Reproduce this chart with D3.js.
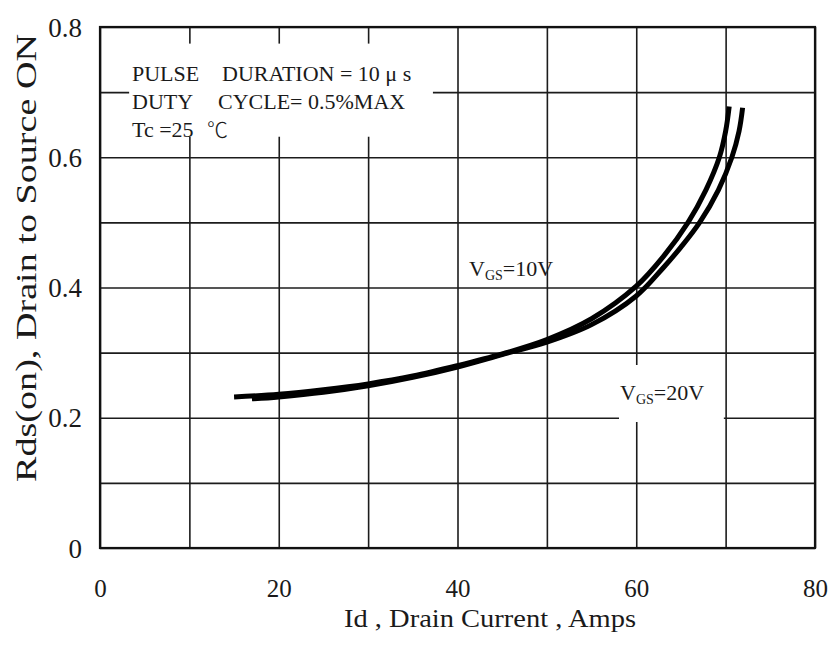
<!DOCTYPE html>
<html>
<head>
<meta charset="utf-8">
<script src="https://cdn.jsdelivr.net/npm/d3@7"></script>
<style>
  html, body { margin: 0; padding: 0; background: #fff; }
  svg { display: block; }
  text { font-family: "Liberation Serif", "Times New Roman", serif; fill: #1a1a1a; }
</style>
</head>
<body>
<svg id="chart" width="831" height="646"></svg>
<script>
// ---- data ----
const xTickLabels = [0, 20, 40, 60, 80];
const yTickLabels = [0, 0.2, 0.4, 0.6, 0.8];
const xGrid = [0, 10, 20, 30, 40, 50, 60, 70, 80];
const yGrid = [0, 0.1, 0.2, 0.3, 0.4, 0.5, 0.6, 0.7, 0.8];

// VGS = 10V  (Id [A], Rds(on) [ohm])
const vgs10Id  = [15, 20, 25, 30, 35, 40, 45, 50, 55, 60, 63, 65.8, 67.8, 69.3, 70.0, 70.4];
const vgs10Rds = [0.232, 0.236, 0.243, 0.252, 0.264, 0.280, 0.298, 0.320, 0.352, 0.402, 0.447, 0.500, 0.550, 0.600, 0.640, 0.678];
// VGS = 20V
const vgs20Id  = [17, 20, 25, 30, 35, 40, 45, 50, 55, 60, 63, 65, 67.1, 69.2, 70.7, 71.5, 71.9];
const vgs20Rds = [0.229, 0.232, 0.239, 0.249, 0.262, 0.278, 0.297, 0.316, 0.343, 0.387, 0.430, 0.462, 0.500, 0.550, 0.600, 0.640, 0.676];

const noteLines = [
  ["PULSE", "DURATION = 10 \u03bc s"],
  ["DUTY", "CYCLE= 0.5%MAX"],
  ["Tc =25", "\u2103"]
];
const xTitle = "Id , Drain Current , Amps";
const yTitle = "Rds(on), Drain to Source ON";

// ---- layout ----
const svg = d3.select("#chart");
const x = d3.scaleLinear().domain([0, 80]).range([100, 815]);
const y = d3.scaleLinear().domain([0, 0.8]).range([548, 27]);
const plotTop = y(0.8), plotBottom = y(0), plotLeft = x(0), plotRight = x(80);

// grid via axes
const gx = svg.append("g")
  .attr("transform", `translate(0,${plotBottom})`)
  .call(d3.axisBottom(x).tickValues(xGrid).tickSize(-(plotBottom - plotTop)).tickFormat(""));
const gy = svg.append("g")
  .attr("transform", `translate(${plotLeft},0)`)
  .call(d3.axisLeft(y).tickValues(yGrid).tickSize(-(plotRight - plotLeft)).tickFormat(""));
[gx, gy].forEach(g => {
  g.select(".domain").remove();
  g.selectAll(".tick line").attr("stroke", "#1c1c1c").attr("stroke-width", 1.6);
});

// white patches behind annotations
svg.append("rect").attr("x", x(3.26)).attr("y", y(0.7745)).attr("width", x(37.25) - x(3.26)).attr("height", y(0.6315) - y(0.7745)).attr("fill", "#fff");
svg.append("rect").attr("x", x(58.07)).attr("y", y(0.2810)).attr("width", x(69.8) - x(58.07)).attr("height", y(0.1935) - y(0.2810)).attr("fill", "#fff");

// frame
svg.append("rect").attr("x", plotLeft).attr("y", plotTop).attr("width", plotRight - plotLeft).attr("height", plotBottom - plotTop)
  .attr("fill", "none").attr("stroke", "#111").attr("stroke-width", 2.2);

// tick labels
const ax = svg.append("g").attr("transform", `translate(0,${plotBottom})`)
  .call(d3.axisBottom(x).tickValues(xTickLabels).tickSize(0).tickPadding(0).tickFormat(d3.format("d")));
ax.select(".domain").remove();
ax.selectAll("text").attr("y", 49).attr("dy", null).attr("font-size", 25).attr("font-family", "Liberation Serif").attr("fill", "#1a1a1a");

const ay = svg.append("g").attr("transform", `translate(${plotLeft},0)`)
  .call(d3.axisLeft(y).tickValues(yTickLabels).tickSize(0).tickPadding(0).tickFormat(d => d === 0 ? "0" : d3.format(".1f")(d)));
ay.select(".domain").remove();
ay.selectAll("text").attr("x", -18).attr("dy", null).attr("y", 9).attr("font-size", 27).attr("font-family", "Liberation Serif").attr("fill", "#1a1a1a");

// curves
const line = d3.line().x(d => x(d[0])).y(d => y(d[1])).curve(d3.curveCatmullRom.alpha(0.5));
const s10 = vgs10Id.map((v, i) => [v, vgs10Rds[i]]);
const s20 = vgs20Id.map((v, i) => [v, vgs20Rds[i]]);
[s10, s20].forEach(s => {
  svg.append("path").datum(s).attr("d", line)
    .attr("fill", "none").attr("stroke", "#000").attr("stroke-width", 5).attr("stroke-linejoin", "round");
});

// note box text
const noteX1 = [132, 132, 132], noteX2 = [222, 218, 207];
const noteY = [81, 109, 137];
noteLines.forEach((ln, i) => {
  const t = svg.append("text").attr("y", noteY[i]).attr("font-size", 22);
  t.append("tspan").attr("x", noteX1[i]).text(ln[0]);
  const t2 = t.append("tspan").attr("x", noteX2[i]).text(ln[1]);
  if (ln[1] === "\u2103") t2.attr("font-family", "Noto Sans CJK SC").attr("font-weight", 300).attr("font-size", 21);
});

// VGS labels
function vgsLabel(px, py, val) {
  const t = svg.append("text").attr("x", px).attr("y", py).attr("font-size", 22);
  t.append("tspan").text("V");
  t.append("tspan").attr("font-size", 14).attr("dy", 4).text("GS");
  t.append("tspan").attr("dy", -4).text("=" + val);
}
vgsLabel(469, 276, "10V");
vgsLabel(620, 400, "20V");

// axis titles
svg.append("text").attr("x", 490).attr("y", 627).attr("text-anchor", "middle")
  .attr("font-size", 26).attr("textLength", 292).attr("lengthAdjust", "spacingAndGlyphs").text(xTitle);
svg.append("text").attr("transform", "translate(36,258) rotate(-90)").attr("text-anchor", "middle")
  .attr("font-size", 29).attr("textLength", 448).attr("lengthAdjust", "spacingAndGlyphs").text(yTitle);
</script>
</body>
</html>
